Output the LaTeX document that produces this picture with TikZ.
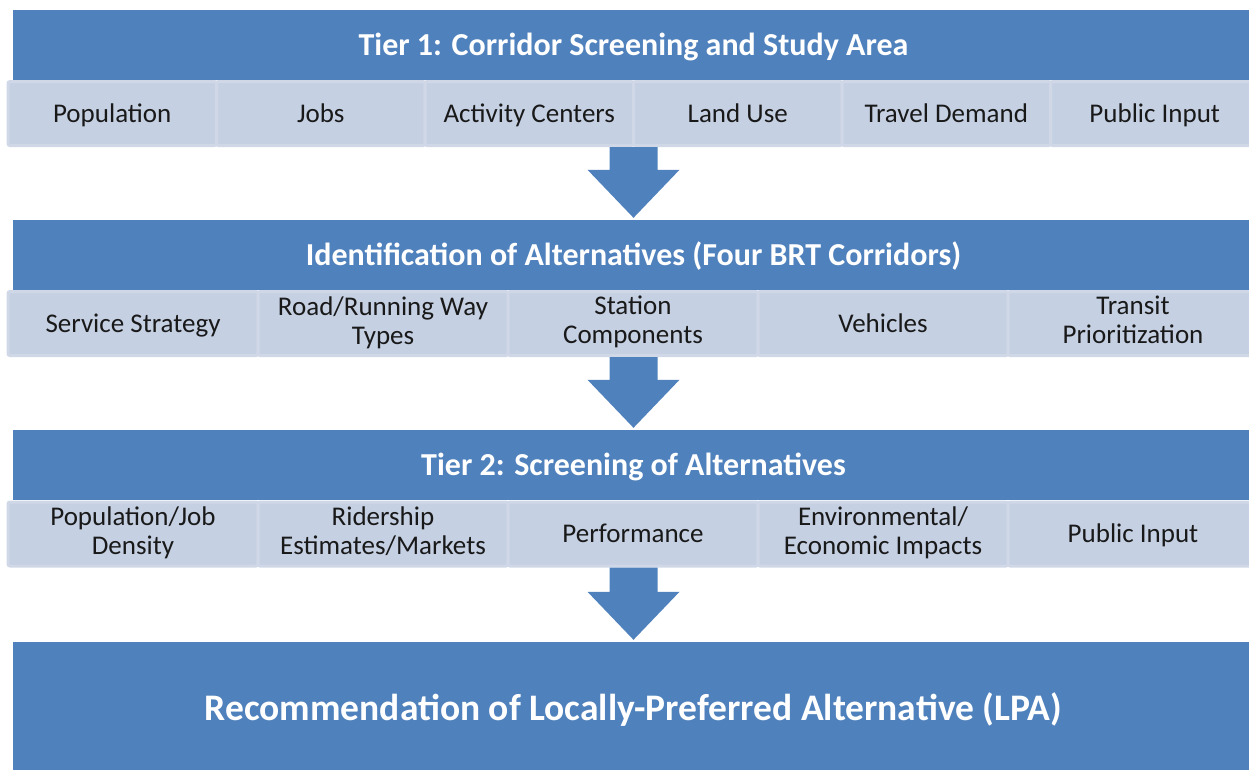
\documentclass[tikz,border=0pt]{standalone}
\usepackage{fontspec}
\setmainfont{Carlito}
\usetikzlibrary{calc}
\definecolor{tierblue}{HTML}{4F81BD}
\definecolor{cellfill}{HTML}{C5D0E3}
\definecolor{cellline}{HTML}{D0D8E8}

% struts that centre the cap height in a node
\newcommand{\capstrut}{\rule[-0.25em]{0pt}{1.15em}}
\newcommand{\laststrut}{\rule[-0.05em]{0pt}{0.1em}}

% block arrow from a point down to a tip (same x)
\newcommand{\flowarrow}[2]{%
  \fill[tierblue] let \p1=(#1), \p2=(#2) in
    (\x1-24pt,\y1) -- (\x1+24pt,\y1) -- (\x1+24pt,\y2+50pt) -- (\x1+46pt,\y2+50pt)
    -- (\x2,\y2+2pt) -- (\x1-46pt,\y2+50pt) -- (\x1-24pt,\y2+50pt) -- cycle;
}

\begin{document}
\begin{tikzpicture}[x=1pt, y=-1pt,
    tierbar/.style={fill=tierblue, text=white, inner sep=0pt,
      font=\fontsize{32}{36}\selectfont\bfseries,
      execute at begin node=\capstrut,
      minimum width=1241pt, minimum height=70pt},
    crit/.style={fill=cellfill, draw=cellline, line width=3pt, rounded corners=2pt,
      text=black!90, align=center, inner sep=0pt,
      font=\fontsize{27}{29}\selectfont,
      execute at begin node=\capstrut, execute at end node=\laststrut,
      minimum height=64pt}]

    \useasboundingbox (0,0) rectangle (1249,769);
    \clip (0,0) rectangle (1249,769);

    % ── Tier 1 ────────────────────────────────────────────────────────────────
    \node[tierbar] (tier1) at (633.5,45) {Tier 1: Corridor Screening and Study Area};
    \foreach \lbl [count=\i from 0] in {Population, Jobs, Activity Centers,
        Land Use, Travel Demand, Public Input}
      \node[crit, minimum width=208.5pt] (ra\i) at (112.25+208.5*\i,113.5) {\lbl};

    % ── Alternatives ──────────────────────────────────────────────────────────
    \node[tierbar] (alts) at (633.5,255)
        {Identification of Alternatives (Four BRT Corridors)};
    \foreach \lbl [count=\i from 0] in {Service Strategy, {Road/Running Way\\Types},
        {Station\\Components}, Vehicles, {Transit\\Prioritization}}
      \node[crit, minimum width=250pt] (rb\i) at (133+250*\i,323.5) {\lbl};

    % ── Tier 2 ────────────────────────────────────────────────────────────────
    \node[tierbar] (tier2) at (633.5,465) {Tier 2: Screening of Alternatives};
    \foreach \lbl [count=\i from 0] in {{Population/Job\\Density},
        {Ridership\\Estimates/Markets}, Performance,
        {Environmental/\\Economic Impacts}, Public Input}
      \node[crit, minimum width=250pt] (rc\i) at (133+250*\i,534) {\lbl};

    % ── LPA ───────────────────────────────────────────────────────────────────
    \node[tierbar, minimum height=132pt, font=\fontsize{37.5}{42}\selectfont\bfseries]
        (lpa) at (633.5,708)
        {Recommendation of Locally-Preferred Alternative (LPA)};

    % ── Arrows between the stages ─────────────────────────────────────────────
    \flowarrow{alts.north |- ra0.south}{alts.north}
    \flowarrow{tier2.north |- rb0.south}{tier2.north}
    \flowarrow{lpa.north |- rc0.south}{lpa.north}

\end{tikzpicture}
\end{document}
